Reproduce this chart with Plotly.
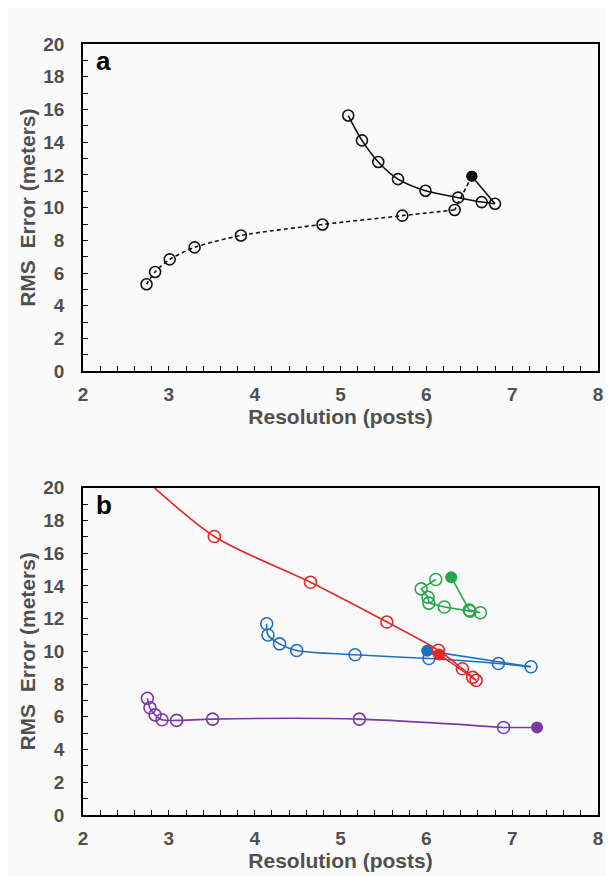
import plotly.graph_objects as go
from plotly.subplots import make_subplots

# ---------------- data (first point of each series = filled start marker) ----
a_solid_x = [6.53, 6.80, 6.645, 6.37, 5.99, 5.67, 5.44, 5.25, 5.09]
a_solid_y = [11.92, 10.24, 10.34, 10.61, 11.03, 11.74, 12.79, 14.11, 15.63]
a_dash_x = [6.53, 6.33, 5.72, 4.79, 3.84, 3.30, 3.01, 2.84, 2.74]
a_dash_y = [11.92, 9.86, 9.51, 8.97, 8.30, 7.57, 6.84, 6.07, 5.32]

red_x = [6.15, 6.58, 6.54, 6.42, 6.14, 5.54, 4.65, 3.53]
red_y = [9.81, 8.23, 8.41, 8.94, 10.07, 11.79, 14.22, 17.02]
red_tail_x = [2.62]          # line leaves the top of the frame
red_tail_y = [21.0]

blue_x = [6.01, 7.22, 6.84, 6.03, 5.17, 4.49, 4.29, 4.155, 4.14]
blue_y = [10.03, 9.06, 9.26, 9.56, 9.79, 10.05, 10.46, 11.00, 11.69]

green_x = [6.29, 6.50, 6.63, 6.51, 6.21, 6.03, 6.02, 5.94, 6.11]
green_y = [14.53, 12.52, 12.36, 12.46, 12.71, 12.95, 13.31, 13.82, 14.39]

purple_x = [7.29, 6.90, 5.22, 3.51, 3.09, 2.92, 2.84, 2.78, 2.75]
purple_y = [5.35, 5.35, 5.86, 5.86, 5.78, 5.82, 6.12, 6.55, 7.13]

x_ticks = [2, 3, 4, 5, 6, 7, 8]
y_ticks = [0, 2, 4, 6, 8, 10, 12, 14, 16, 18, 20]

BG = "#fafafa"
GRAY = "#505050"
FONT = "Liberation Sans"

fig = make_subplots(rows=2, cols=1, vertical_spacing=0.151)


def add_series(x, y, color, row, dash="solid", mode="spline", tail_x=(), tail_y=(), msize=11):
    # first segment straight (from filled start point)
    fig.add_trace(go.Scatter(x=x[:2], y=y[:2], mode="lines",
                             line=dict(color=color, width=1.6, dash=dash),
                             showlegend=False, hoverinfo="skip"), row=row, col=1)
    lx = list(x[1:]) + list(tail_x)
    ly = list(y[1:]) + list(tail_y)
    fig.add_trace(go.Scatter(x=lx, y=ly, mode="lines",
                             line=dict(color=color, width=1.6, dash=dash,
                                       shape=mode, smoothing=0.8 if mode == "spline" else None),
                             showlegend=False, hoverinfo="skip"), row=row, col=1)
    fig.add_trace(go.Scatter(x=x[1:], y=y[1:], mode="markers",
                             marker=dict(symbol="circle-open", size=msize,
                                         color=color, line=dict(width=1.6, color=color)),
                             showlegend=False), row=row, col=1)
    fig.add_trace(go.Scatter(x=x[:1], y=y[:1], mode="markers",
                             marker=dict(symbol="circle", size=msize,
                                         color=color, line=dict(width=0)),
                             showlegend=False), row=row, col=1)


# panel a
add_series(a_dash_x, a_dash_y, "#111111", 1, dash="4px,3px")
add_series(a_solid_x, a_solid_y, "#111111", 1)

# panel b
add_series(green_x, green_y, "#26a84a", 2, mode="linear", msize=12)
add_series(blue_x, blue_y, "#1f6ec0", 2, msize=12)
add_series(purple_x, purple_y, "#7a3aa6", 2, msize=12)
add_series(red_x, red_y, "#e02a2a", 2, tail_x=red_tail_x, tail_y=red_tail_y, msize=12)

axis_common = dict(showline=True, linecolor="black", linewidth=1.6, mirror=True,
                   ticks="inside", ticklen=5, tickwidth=1.3, tickcolor="black",
                   showgrid=False, zeroline=False,
                   tickfont=dict(family=FONT, size=19, color=GRAY, weight="bold"))

for r in (1, 2):
    fig.update_xaxes(range=[2, 8], tickvals=x_ticks, ticktext=[str(v) for v in x_ticks],
                     minor=dict(dtick=0.2, tick0=2, ticks="inside", ticklen=5,
                                tickwidth=1.3, tickcolor="black"),
                     ticklabelstandoff=5,
                     title=dict(text="Resolution (posts)", standoff=3,
                                font=dict(family=FONT, size=21, color=GRAY, weight="bold")),
                     row=r, col=1, **axis_common)
    fig.update_yaxes(range=[0, 20], tickvals=y_ticks, ticktext=[str(v) for v in y_ticks],
                     minor=dict(dtick=1, tick0=0, ticks="inside", ticklen=5,
                                tickwidth=1.3, tickcolor="black"),
                     ticklabelstandoff=13,
                     title=dict(text="RMS  Error (meters)", standoff=2,
                                font=dict(family=FONT, size=21, color=GRAY, weight="bold")),
                     row=r, col=1, **axis_common)

for ref, lab in (("", "a"), ("2", "b")):
    fig.add_annotation(text=lab, xref=f"x{ref} domain", yref=f"y{ref} domain",
                       x=0.022, y=0.948, xanchor="left", yanchor="middle", showarrow=False,
                       font=dict(family=FONT, size=26, color="black", weight="bold"))

fig.update_layout(width=605, height=868, margin=dict(l=75, r=10, t=36, b=57),
                  paper_bgcolor=BG, plot_bgcolor=BG, showlegend=False)

fig.write_html("out.html")
